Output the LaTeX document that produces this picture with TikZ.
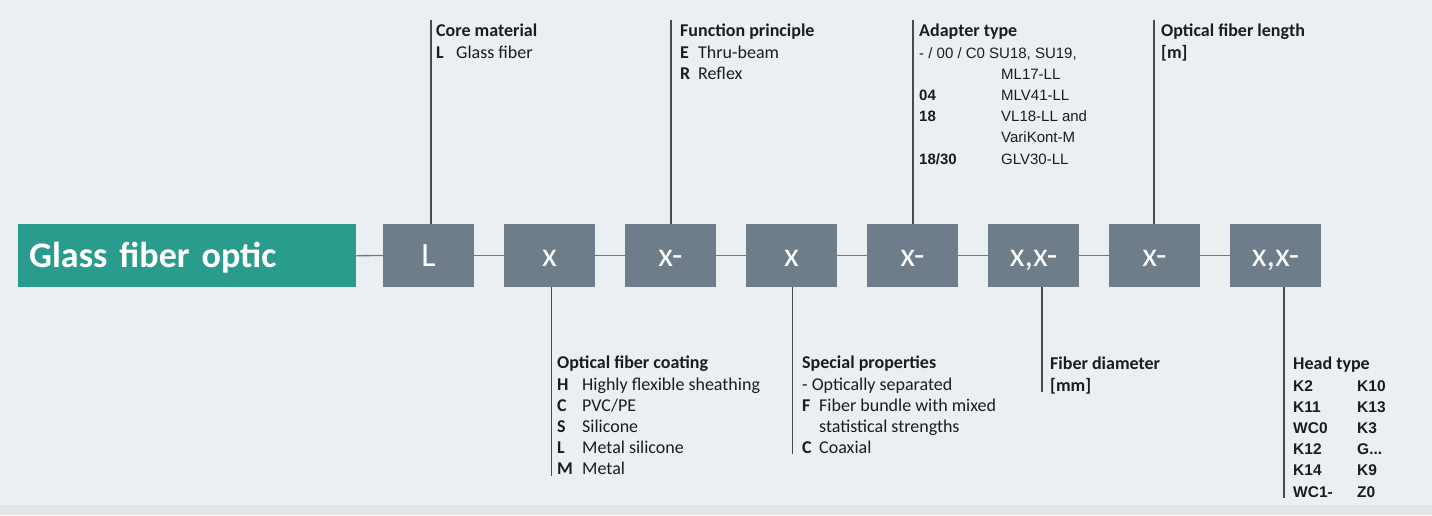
\documentclass[tikz,border=0pt]{standalone}
\usepackage{fontspec}
\setmainfont{Carlito}
\newfontfamily\arialf{Liberation Sans}
\definecolor{bgc}{HTML}{ECEFF2}
\definecolor{bandc}{HTML}{E1E5E9}
\definecolor{greenc}{HTML}{2A9C8D}
\definecolor{boxc}{HTML}{6F7D8B}
\definecolor{linkc}{HTML}{7F736B}
\definecolor{leadc}{HTML}{4A4A4A}
\definecolor{txtc}{HTML}{1C1C1C}
\newcommand\adrow[2]{{\arialf\fontsize{15}{21.2}\selectfont\makebox[82pt][l]{\textbf{#1}}#2}}
\newcommand\hdrow[2]{{\arialf\bfseries\fontsize{15.5}{21}\selectfont\makebox[64pt][l]{#1}#2}}
\newcommand\firstline{\rule{0pt}{14pt}}
\begin{document}
\begin{tikzpicture}[x=1pt,y=-1pt,
  box/.style={fill=boxc, draw=none, minimum width=91pt, minimum height=63pt, inner sep=0pt,
    text=white, font=\fontsize{34}{34}\selectfont, text height=22pt, text depth=0pt},
  link/.style={draw=linkc, line width=1.3pt},
  leader/.style={draw=leadc, line width=1.4pt},
  lbl/.style={anchor=north west, inner sep=0pt, align=left, text=txtc,
    font=\fontsize{18}{21.2}\selectfont},
]
\useasboundingbox (0,0) rectangle (1432,515);
\fill[bgc] (0,0) rectangle (1432,515);
\fill[bandc] (0,505) rectangle (1432,515);

% title box
\node[fill=greenc, minimum width=338pt, minimum height=63pt, anchor=north west, inner sep=0pt,
  text=white, font=\bfseries\fontsize{36}{36}\selectfont, text height=23pt, text depth=0pt,
  align=left, text width=316pt] (gfo) at (18,224) {Glass fiber optic};

% code boxes
\node[box] (b1) at (428.5,255.5) {L};
\node[box] (b2) at (549.5,255.5) {x};
\node[box] (b3) at (670.5,255.5) {x-};
\node[box] (b4) at (791.5,255.5) {x};
\node[box] (b5) at (912.5,255.5) {x-};
\node[box] (b6) at (1033.5,255.5) {x,x-};
\node[box] (b7) at (1154.5,255.5) {x-};
\node[box] (b8) at (1275.5,255.5) {x,x-};

\draw[link] (gfo.east) -- (b1.west);
\draw[link] (b1.east) -- (b2.west);
\draw[link] (b2.east) -- (b3.west);
\draw[link] (b3.east) -- (b4.west);
\draw[link] (b4.east) -- (b5.west);
\draw[link] (b5.east) -- (b6.west);
\draw[link] (b6.east) -- (b7.west);
\draw[link] (b7.east) -- (b8.west);

% leaders
\coordinate (t1) at (431,20);
\coordinate (t3) at (671,20);
\coordinate (t5) at (913,20);
\coordinate (t7) at (1154,20);
\draw[leader] (t1) -- (t1 |- b1.north);
\draw[leader] (t3) -- (t3 |- b3.north);
\draw[leader] (t5) -- (t5 |- b5.north);
\draw[leader] (t7) -- (t7 |- b7.north);
\coordinate (u2) at (551.5,476);
\coordinate (u4) at (792.5,454);
\coordinate (u6) at (1042,392);
\coordinate (u8) at (1284,498);
\draw[leader] (u2 |- b2.south) -- (u2);
\draw[leader] (u4 |- b4.south) -- (u4);
\draw[leader] (u6 |- b6.south) -- (u6);
\draw[leader] (u8 |- b8.south) -- (u8);

% top labels
\node[lbl] (core) at (436,22.7) {\firstline\textbf{Core material}\\
  \makebox[20pt][l]{\textbf{L}}Glass fiber};
\node[lbl] (func) at (680,22.7) {\firstline\textbf{Function principle}\\
  \makebox[18pt][l]{\textbf{E}}Thru-beam\\
  \makebox[18pt][l]{\textbf{R}}Reflex};
\node[lbl] (adap) at (919,22.7) {\firstline\textbf{Adapter type}\\
  {\arialf\fontsize{15}{21.2}\selectfont - / 00 / C0 SU18, SU19,}\\
  \adrow{}{ML17-LL}\\
  \adrow{04}{MLV41-LL}\\
  \adrow{18}{VL18-LL and}\\
  \adrow{}{VariKont-M}\\
  \adrow{18/30}{GLV30-LL}};
\node[lbl] (len) at (1161,22.7) {\firstline\textbf{Optical fiber length}\\
  \textbf{[m]}};

% bottom labels
\node[lbl] (coat) at (557,354.7) {\firstline\textbf{Optical fiber coating}\\
  \makebox[25pt][l]{\textbf{H}}Highly flexible sheathing\\
  \makebox[25pt][l]{\textbf{C}}PVC/PE\\
  \makebox[25pt][l]{\textbf{S}}Silicone\\
  \makebox[25pt][l]{\textbf{L}}Metal silicone\\
  \makebox[25pt][l]{\textbf{M}}Metal};
\node[lbl] (spec) at (802,354.7) {\firstline\textbf{Special properties}\\
  - Optically separated\\
  \makebox[17pt][l]{\textbf{F}}Fiber bundle with mixed\\
  \hspace*{17pt}statistical strengths\\
  \makebox[17pt][l]{\textbf{C}}Coaxial};
\node[lbl] (diam) at (1050,355.7) {\firstline\textbf{Fiber diameter}\\
  \textbf{[mm]}};
\node[lbl] (head) at (1293,355.7) {\firstline\textbf{Head type}\\
  \hdrow{K2}{K10}\\
  \hdrow{K11}{K13}\\
  \hdrow{WC0}{K3}\\
  \hdrow{K12}{G...}\\
  \hdrow{K14}{K9}\\
  \hdrow{WC1-}{Z0}};
\end{tikzpicture}
\end{document}
